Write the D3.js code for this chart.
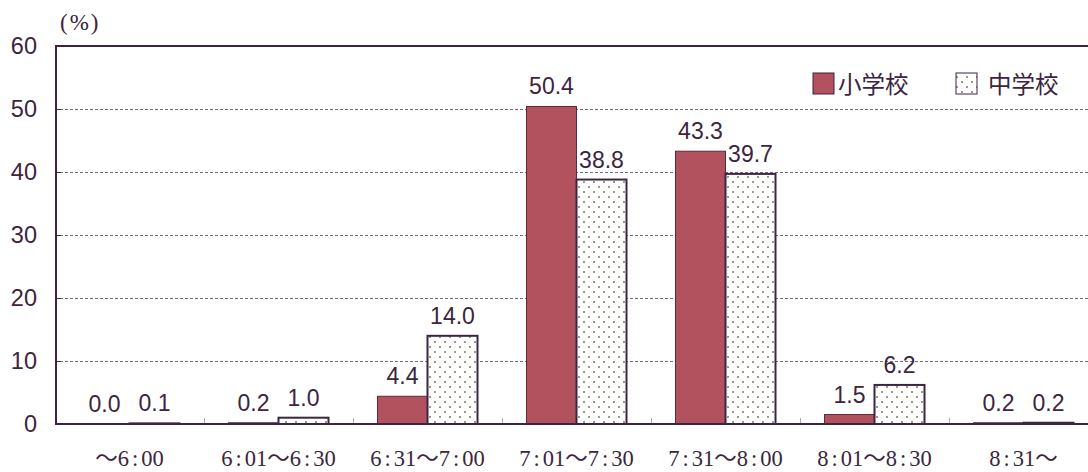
<!DOCTYPE html>
<html><head><meta charset="utf-8">
<script src="https://cdn.jsdelivr.net/npm/d3@7"></script>
<style>body{margin:0;background:#fff}svg{display:block}</style>
</head><body>
<script>
const categories = ["～6:00","6:01～6:30","6:31～7:00","7:01～7:30","7:31～8:00","8:01～8:30","8:31～"];
const seriesNames = ["小学校","中学校"];
const elementary = [0.0,0.2,4.4,50.4,43.3,1.5,0.2];
const juniorHigh = [0.1,1.0,14.0,38.8,39.7,6.2,0.2];
const yTicks = [0,10,20,30,40,50,60];

const W=1088,H=472;
const m={l:56,t:46,b:48};
const bandW=149;
const svg=d3.select("body").append("svg").attr("width",W).attr("height",H);
const defs=svg.append("defs");
const pat=defs.append("pattern").attr("id","dots").attr("patternUnits","userSpaceOnUse")
  .attr("width",10).attr("height",10);
pat.append("rect").attr("width",10).attr("height",10).attr("fill","#fff");
pat.append("rect").attr("x",1).attr("y",1).attr("width",2).attr("height",2).attr("fill","#9a9d84");
pat.append("rect").attr("x",6).attr("y",6).attr("width",2).attr("height",2).attr("fill","#9a9d84");

const x=d3.scaleBand().domain(categories).range([m.l-1,m.l-1+bandW*categories.length]).paddingInner(0).paddingOuter(0);
const y=d3.scaleLinear().domain([0,60]).range([H-m.b,m.t]);
const xs=d3.scaleBand().domain(seriesNames).range([0,x.bandwidth()]).paddingInner(0).paddingOuter(0.49);

const ink="#3b2540";
const sans="Liberation Sans, Arial, sans-serif";
// grid
svg.append("g").selectAll("line").data(yTicks.filter(t=>t>0&&t<60)).join("line")
  .attr("x1",m.l+4).attr("x2",W).attr("y1",d=>y(d)+0.5).attr("y2",d=>y(d)+0.5)
  .attr("stroke","#7a6a80").attr("stroke-width",1).attr("stroke-dasharray","3,2");
// y ticks
svg.append("g").selectAll("line").data(yTicks.filter(t=>t>0&&t<60)).join("line")
  .attr("x1",m.l).attr("x2",m.l+5).attr("y1",d=>y(d)+0.5).attr("y2",d=>y(d)+0.5)
  .attr("stroke",ink).attr("stroke-width",1);
// y labels
svg.append("g").selectAll("text").data(yTicks).join("text")
  .attr("x",37).attr("y",d=>y(d)).attr("dy","0.36em").attr("text-anchor","end")
  .attr("font-family",sans).attr("font-size",23.5).attr("fill",ink)
  .text(d=>d);
// x ticks
svg.append("g").selectAll("line").data(categories.slice(1)).join("line")
  .attr("x1",d=>Math.round(x(d))+0.5).attr("x2",d=>Math.round(x(d))+0.5)
  .attr("y1",y(0)).attr("y2",y(0)-6).attr("stroke","#b0a8b0").attr("stroke-width",1);

const data=categories.map((c,i)=>({c,vals:[{s:seriesNames[0],v:elementary[i]},{s:seriesNames[1],v:juniorHigh[i]}]}));
const g=svg.append("g").selectAll("g").data(data).join("g").attr("transform",d=>`translate(${x(d.c)},0)`);
g.selectAll("rect").data(d=>d.vals).join("rect")
  .attr("x",d=>xs(d.s)).attr("width",xs.bandwidth())
  .attr("y",d=>y(d.v)).attr("height",d=>y(0)-y(d.v))
  .attr("fill",d=>d.s===seriesNames[0]?"#b3525f":"url(#dots)")
  .attr("stroke",d=>d.s===seriesNames[0]?"#5a2a3a":ink).attr("stroke-width",d=>d.s===seriesNames[0]?1:2);
g.selectAll("text").data(d=>d.vals).join("text")
  .attr("x",d=>xs(d.s)+xs.bandwidth()/2).attr("y",d=>y(d.v)-12).attr("text-anchor","middle")
  .attr("font-family",sans).attr("font-size",23).attr("fill",ink)
  .text(d=>d.v.toFixed(1));

// frame
svg.append("line").attr("x1",m.l).attr("x2",W).attr("y1",m.t).attr("y2",m.t).attr("stroke",ink).attr("stroke-width",2);
svg.append("line").attr("x1",m.l).attr("x2",m.l).attr("y1",m.t-1).attr("y2",y(0)+1).attr("stroke",ink).attr("stroke-width",2);
svg.append("line").attr("x1",m.l).attr("x2",W).attr("y1",y(0)).attr("y2",y(0)).attr("stroke",ink).attr("stroke-width",2);

// category labels (split so colons get extra spacing, text unchanged)
const cl=svg.append("g").selectAll("text").data(categories).join("text")
  .attr("x",d=>x(d)+x.bandwidth()/2).attr("y",466).attr("text-anchor","middle")
  .attr("font-family","Liberation Serif, 'Noto Sans CJK JP', serif").attr("font-size",22.5).attr("fill",ink);
cl.each(function(d){
  const t=d3.select(this);
  const parts=d.split(/(:)/);
  parts.forEach((part,i)=>{
    if(!part) return;
    const sp=t.append("tspan").text(part);
    if(part===":") sp.attr("dx",3);
    else if(i>0 && parts[i-1]===":") sp.attr("dx",3);
  });
});
// unit
svg.append("text").attr("x",60).attr("y",30).attr("font-family","Liberation Serif, serif")
  .attr("font-size",23).attr("letter-spacing",2).attr("fill",ink).text("(%)");

// legend
const lg=svg.append("g");
const legX=[813,956];
seriesNames.forEach((s,i)=>{
  lg.append("rect").attr("x",legX[i]).attr("y",73).attr("width",21).attr("height",21)
    .attr("fill",i===0?"#b3525f":"url(#dots)").attr("stroke",ink).attr("stroke-width",1);
  lg.append("text").attr("x",legX[i]+(i===0?25:32)).attr("y",93)
    .attr("font-family","'Noto Sans CJK JP', sans-serif").attr("font-size",23.5).attr("fill",ink).text(s);
});
</script>
</body></html>
